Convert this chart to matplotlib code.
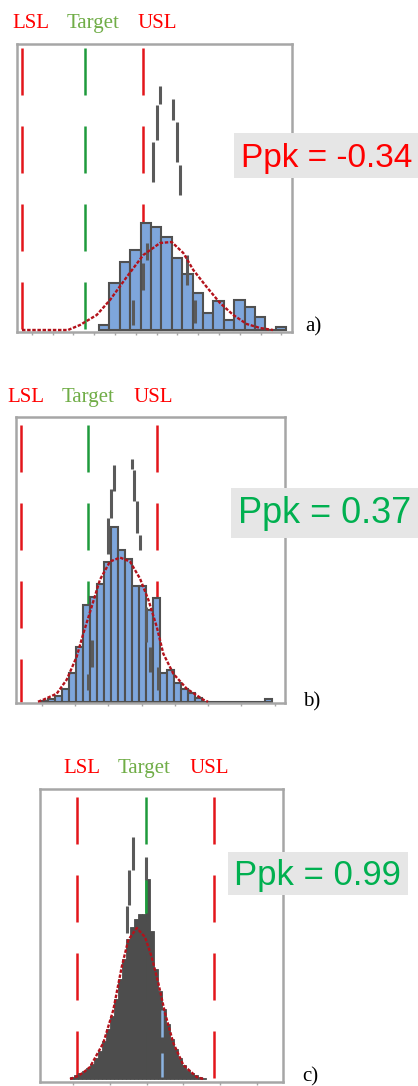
import numpy as np
import matplotlib
matplotlib.use("Agg")
import matplotlib.pyplot as plt
from matplotlib.patches import Rectangle

plt.rcParams['lines.scale_dashes'] = False

W, H, DPI = 418, 1086, 100

# ------------------------------------------------------------------ data
# Panel a
a_bin_start = 82.0
a_bin_width = 10.4
a_counts = [5, 47, 68, 80, 107, 103, 93, 72, 56, 37, 17, 29, 10, 30, 23, 13, 0, 3]
a_curve_x = [5, 51, 63, 79.7, 93, 109.7, 126.3, 143, 154.7, 166.3, 176.3, 189.7, 203, 216.3, 229.7, 243, 256]
a_curve_y = [0, 0, 5, 15, 30, 53, 75, 87, 88, 77, 60, 43, 27, 15, 6, 2, 0]
a_outline_x = [136.3, 139.7, 143.0, 156.3, 159.7, 163.0, 116.0, 126.0, 130.0, 170.0, 178.0]
a_outline_lo = [148, 190, 226, 210, 168, 135, 5, 40, 70, 45, 7]
a_outline_hi = [188, 225, 244, 231, 208, 165, 30, 67, 87, 75, 30]
a_lsl, a_target, a_usl = 5.0, 68.0, 126.3
a_ppk = "Ppk = -0.34"

# Panel b
b_bin_start = 25.3
b_bin_width = 7.0
b_counts = [1, 3, 6, 13, 29, 55, 97, 105, 118, 140, 175, 152, 143, 116, 116, 92, 104,
            29, 32, 19, 13, 9, 4, 0, 0, 0, 0, 0, 0, 0, 0, 0, 3]
b_curve_x = [22, 27.3, 40.7, 50.7, 60.7, 67.3, 75.7, 84, 94, 104, 114, 124, 132.3, 140.7, 147.3, 157.3, 170.7, 187.3, 192]
b_curve_y = [0, 2, 8, 22, 45, 68, 95, 122, 140, 144, 140, 123, 102, 75, 48, 28, 13, 2, 0]
b_outline_x = [98.3, 95.0, 91.7, 115.7, 118.0, 121.3, 124.0, 76.0, 72.0, 130.0, 134.0, 142.0]
b_outline_lo = [210, 184, 148, 232, 200, 169, 152, 35, 12, 60, 30, 12]
b_outline_hi = [236, 212, 184, 242, 231, 200, 167, 62, 28, 95, 55, 35]
b_lsl, b_target, b_usl = 4.7, 72.3, 140.5
b_ppk = "Ppk = 0.37"

# Panel c
c_bin_start = 30.0
c_bin_width = 4.0
c_counts = [2, 4, 6, 8, 11, 15, 21, 28, 38, 50, 63, 80, 100, 120, 140, 152, 160, 165, 165, 200,
            148, 110, 88, 70, 55, 40, 30, 21, 14, 9, 6, 4, 2, 1]
c_curve_x = [30, 38, 44, 50, 63.3, 73.3, 81.7, 88.3, 96.7, 105, 111.7, 118.3, 125, 133.3, 143.3, 156.7, 163.3]
c_curve_y = [0, 3, 7, 12, 36, 69, 112, 139, 151, 142, 122, 96, 66, 36, 14, 2, 0]
c_outline_x = [86.7, 89.3, 92.7, 106.0]
c_outline_lo = [146, 174, 209, 199]
c_outline_hi = [173, 209, 242, 222]
c_mark_x = [121.7, 121.7]
c_mark_lo = [42, 2]
c_mark_hi = [69, 26]
c_target_seg = [166, 199]
c_lsl, c_target, c_usl = 37.3, 106.0, 174.3
c_ppk = "Ppk = 0.99"

spec_names = ["LSL", "Target", "USL"]

# ------------------------------------------------------------------ style
RED_SPEC = '#e3151a'
GREEN_SPEC = '#1e9a3c'
LBL_RED = '#ff0000'
LBL_GREEN = '#70ad47'
PPK_RED = '#ff0000'
PPK_GREEN = '#00b050'
CURVE = '#b3121b'
BLUE = '#7ea6dc'
EDGE = '#505050'
OUTL = '#5a5a5a'
DARK = '#4d4d4d'
BOXC = '#e6e6e6'
SPINE = '#a6a6a6'

fig = plt.figure(figsize=(W / DPI, H / DPI), dpi=DPI)
fig.patch.set_facecolor('white')


def px_axes(left, top, right, bottom):
    return fig.add_axes([left / W, 1 - bottom / H, (right - left) / W, (bottom - top) / H])


def px_text(x, y, s, **kw):
    fig.text(x / W, 1 - y / H, s, **kw)


def spec_line(ax, x, color, top, gap_px):
    on, off = 47 * 0.72, 31 * 0.72
    off0 = on + off - gap_px * 0.72
    ax.plot([x, x], [top, 0], color=color, lw=1.8, linestyle=(off0, (on, off)),
            solid_capstyle='butt', dash_capstyle='butt', zorder=1)


def style_axes(ax, xlim, ylim, ticks):
    ax.set_xlim(*xlim)
    ax.set_ylim(*ylim)
    ax.set_yticks([])
    ax.set_xticks(ticks)
    ax.tick_params(axis='x', direction='out', length=2.5, width=1, color=SPINE, labelbottom=False)
    for sp in ax.spines.values():
        sp.set_color(SPINE)
        sp.set_linewidth(1.8)


def panel(box, ylim, bin_start, bin_width, counts, curve_x, curve_y,
          ox, olo, ohi, lsl, target, usl, gap_px, ticks, face, edge, elw):
    left, top, right, bottom = box
    ax = px_axes(left, top, right, bottom)
    style_axes(ax, (0, right - left), ylim, ticks)
    ytop = ylim[1]
    spec_line(ax, lsl, RED_SPEC, ytop, gap_px)
    spec_line(ax, target, GREEN_SPEC, ytop, gap_px)
    spec_line(ax, usl, RED_SPEC, ytop, gap_px)
    edges = bin_start + bin_width * np.arange(len(counts))
    ax.bar(edges, counts, width=bin_width, align='edge', color=face,
           edgecolor=edge, linewidth=elw, zorder=2)
    ax.vlines(ox, olo, ohi, color=OUTL, lw=2.2, zorder=3, capstyle='butt')
    ax.plot(curve_x, curve_y, color=CURVE, lw=1.7, linestyle=(0, (2.5, 1.2)), zorder=4)
    return ax


# panel a
panel((17, 44, 292, 332), (-2, 286), a_bin_start, a_bin_width, a_counts, a_curve_x, a_curve_y,
      a_outline_x, a_outline_lo, a_outline_hi, a_lsl, a_target, a_usl, 4,
      np.arange(14.7, 275, 20.8), BLUE, EDGE, 1.5)

# panel b
panel((16, 417, 285, 703.3), (-1.6, 284.4), b_bin_start, b_bin_width, b_counts, b_curve_x, b_curve_y,
      b_outline_x, b_outline_lo, b_outline_hi, b_lsl, b_target, b_usl, 8,
      np.arange(25.7, 269, 33.3), BLUE, EDGE, 1.5)

# panel c
axc = panel((40, 789, 283, 1082), (-3, 290), c_bin_start, c_bin_width, c_counts, c_curve_x, c_curve_y,
            c_outline_x, c_outline_lo, c_outline_hi, c_lsl, c_target, c_usl, 8,
            np.arange(33.3, 243, 36.7), DARK, DARK, 0.6)
axc.vlines(c_mark_x, c_mark_lo, c_mark_hi, color='#8cb4e2', lw=1.8, zorder=3)
axc.plot([c_target, c_target], c_target_seg, color=GREEN_SPEC, lw=1.8, zorder=3, solid_capstyle='butt')

# spec labels
serif = 'Liberation Serif'
for (xs, y) in [((12, 67, 138), 28.3), ((7, 61.7, 133), 401.7), ((63.3, 118, 189), 772.7)]:
    for x, name in zip(xs, spec_names):
        col = LBL_GREEN if name == "Target" else LBL_RED
        px_text(x, y, name, ha='left', va='baseline', fontfamily=serif, fontsize=15, color=col)

# Ppk boxes
for (x0, y0, x1, y1) in [(234, 133, 420, 178), (231, 488, 420, 538), (228, 852, 408, 895)]:
    fig.add_artist(Rectangle((x0 / W, 1 - y1 / H), (x1 - x0) / W, (y1 - y0) / H,
                             transform=fig.transFigure, facecolor=BOXC, edgecolor='none', zorder=5))

sans = 'Liberation Sans'
px_text(240.7, 166.7, a_ppk, ha='left', va='baseline', fontfamily=sans, fontsize=24, color=PPK_RED, zorder=6)
px_text(238.3, 523.3, b_ppk, ha='left', va='baseline', fontfamily=sans, fontsize=26, color=PPK_GREEN, zorder=6)
px_text(234.3, 885, c_ppk, ha='left', va='baseline', fontfamily=sans, fontsize=25, color=PPK_GREEN, zorder=6)

# panel letters
px_text(305, 331, "a)", ha='left', va='baseline', fontfamily=serif, fontsize=15, color='black')
px_text(303, 706, "b)", ha='left', va='baseline', fontfamily=serif, fontsize=15, color='black')
px_text(302, 1081, "c)", ha='left', va='baseline', fontfamily=serif, fontsize=15, color='black')

fig.savefig('out.png', dpi=DPI)
